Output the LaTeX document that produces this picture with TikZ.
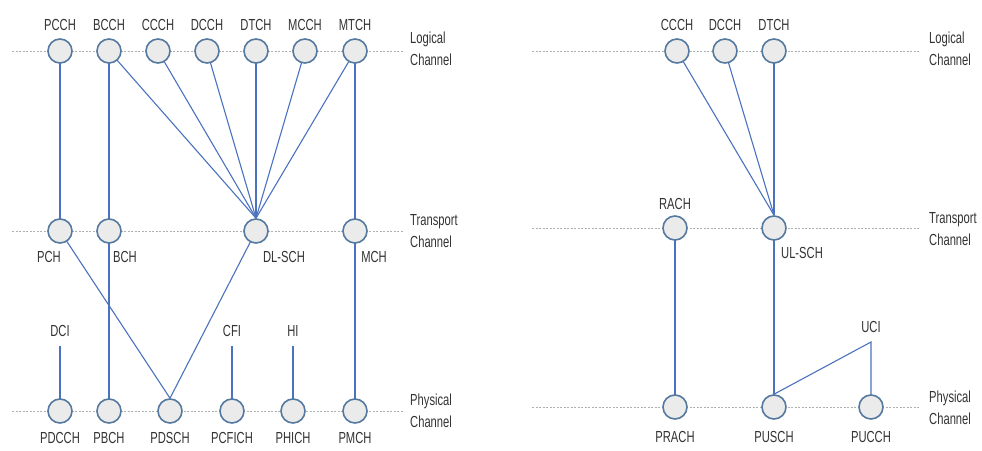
\documentclass[tikz,border=0pt]{standalone}
\usepackage{fontspec}
\setmainfont{Liberation Sans}[FakeStretch=0.7]
\usetikzlibrary{backgrounds}
\definecolor{ring}{HTML}{55799F}
\definecolor{fillc}{HTML}{EBEBEB}
\definecolor{wire}{HTML}{4A72BF}
\definecolor{txt}{HTML}{333333}
\definecolor{dots}{HTML}{B0B0B0}
\tikzset{
  ch/.style={circle,draw=ring,fill=fillc,line width=1.6pt,minimum size=24pt,inner sep=0pt},
  lbl/.style={text=txt,font=\fontsize{16}{17}\selectfont,inner sep=0pt},
  side/.style={lbl,align=left,anchor=west,font=\fontsize{16}{22}\selectfont},
  wireline/.style={draw=wire,line width=1.1pt},
  layerline/.style={draw=dots,line width=0.9pt,dash pattern=on 2pt off 1.5pt}
}
\begin{document}
\begin{tikzpicture}[x=1pt,y=-1pt]
\useasboundingbox (0,0) rectangle (982,450);
% ---------- left: nodes ----------
\foreach \n/\x in {PCCH/60,BCCH/109,CCCH/158,DCCH/207,DTCH/256,MCCH/305,MTCH/355}{
  \node[ch] (\n) at (\x,51) {};
  \node[lbl] (\n-t) at (\x,25) {\n};
}
\node[ch] (PCH) at (60,231) {};
\node[ch] (BCH) at (109,231) {};
\node[ch] (DLSCH) at (256,231) {};
\node[ch] (MCH) at (355,231) {};
\node[lbl] (PCH-t) at (49,257) {PCH};
\node[lbl] (BCH-t) at (125,257) {BCH};
\node[lbl] (DLSCH-t) at (284,257) {DL-SCH};
\node[lbl] (MCH-t) at (374,257) {MCH};
\foreach \n/\x in {PDCCH/60,PBCH/109,PDSCH/170,PCFICH/232,PHICH/293,PMCH/355}{
  \node[ch] (\n) at (\x,411) {};
  \node[lbl] (\n-t) at (\x,438) {\n};
}
\node[lbl] (DCI) at (60,331) {DCI};
\node[lbl] (CFI) at (232,331) {CFI};
\node[lbl] (HI) at (293,331) {HI};
\coordinate (DCI-e) at (60,346);
\coordinate (CFI-e) at (232,346);
\coordinate (HI-e) at (293,346);
\node[side] (L-log) at (410,49) {Logical\\Channel};
\node[side] (L-tra) at (410,231) {Transport\\Channel};
\node[side] (L-phy) at (410,411) {Physical\\Channel};
\coordinate (LL1a) at (12,51);  \coordinate (LL1b) at (403,51);
\coordinate (LL2a) at (12,231); \coordinate (LL2b) at (403,231);
\coordinate (LL3a) at (12,411); \coordinate (LL3b) at (403,411);
% ---------- right: nodes ----------
\foreach \n/\x in {CCCHr/677,DCCHr/725,DTCHr/774}{
  \node[ch] (\n) at (\x,51) {};
}
\node[lbl] (CCCHr-t) at (677,25) {CCCH};
\node[lbl] (DCCHr-t) at (725,25) {DCCH};
\node[lbl] (DTCHr-t) at (774,25) {DTCH};
\node[ch] (RACH) at (675,228) {};
\node[ch] (ULSCH) at (774,228) {};
\node[lbl] (RACH-t) at (675,204) {RACH};
\node[lbl] (ULSCH-t) at (802,253) {UL-SCH};
\node[ch] (PRACH) at (675,407) {};
\node[ch] (PUSCH) at (774,407) {};
\node[ch] (PUCCH) at (871,407) {};
\node[lbl] (PRACH-t) at (675,437) {PRACH};
\node[lbl] (PUSCH-t) at (774,437) {PUSCH};
\node[lbl] (PUCCH-t) at (871,437) {PUCCH};
\node[lbl] (UCI) at (871,327) {UCI};
\coordinate (UCI-e) at (871,342);
\node[side] (R-log) at (929,49) {Logical\\Channel};
\node[side] (R-tra) at (929,229) {Transport\\Channel};
\node[side] (R-phy) at (929,408) {Physical\\Channel};
\coordinate (RL1a) at (532,51);  \coordinate (RL1b) at (920,51);
\coordinate (RL2a) at (532,228); \coordinate (RL2b) at (920,228);
\coordinate (RL3a) at (532,407); \coordinate (RL3b) at (920,407);
% ---------- lines ----------
\begin{scope}[on background layer]
  \foreach \a/\b in {LL1a/LL1b,LL2a/LL2b,LL3a/LL3b,RL1a/RL1b,RL2a/RL2b,RL3a/RL3b}
    \draw[layerline] (\a) -- (\b);
  \foreach \n in {BCCH,CCCH,DCCH,DTCH,MCCH,MTCH}
    \draw[wireline] (\n.center) -- (DLSCH.north);
  \draw[wireline] (PCCH.center) -- (PCH.center);
  \draw[wireline] (BCCH.center) -- (BCH.center);
  \draw[wireline] (MTCH.center) -- (MCH.center);
  \draw[wireline] (BCH.center) -- (PBCH.center);
  \draw[wireline] (MCH.center) -- (PMCH.center);
  \draw[wireline] (PCH.center) -- (PDSCH.north);
  \draw[wireline] (DLSCH.center) -- (PDSCH.north);
  \draw[wireline] (DCI-e) -- (PDCCH.center);
  \draw[wireline] (CFI-e) -- (PCFICH.center);
  \draw[wireline] (HI-e) -- (PHICH.center);
  \foreach \n in {CCCHr,DCCHr,DTCHr}
    \draw[wireline] (\n.center) -- (ULSCH.north);
  \draw[wireline] (RACH.center) -- (PRACH.center);
  \draw[wireline] (ULSCH.center) -- (PUSCH.center);
  \draw[wireline] (PUSCH.north) -- (UCI-e) -- (PUCCH.center);
\end{scope}
\end{tikzpicture}
\end{document}
